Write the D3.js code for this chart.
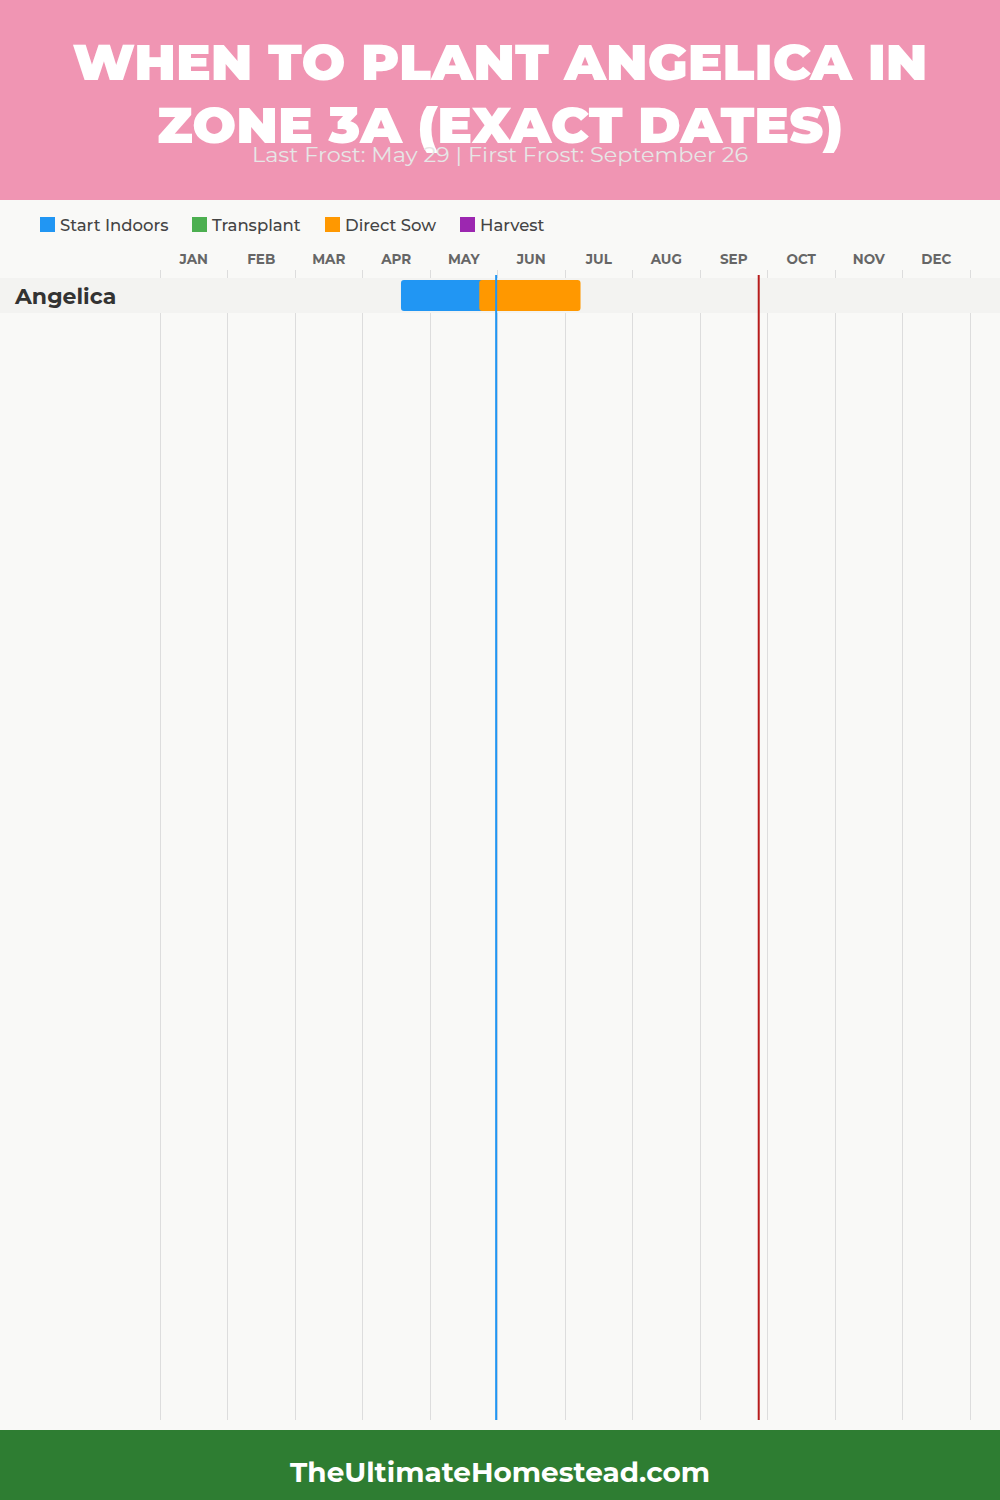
<!DOCTYPE html>
<html>
<head>
<meta charset="utf-8">
<script src="https://cdn.jsdelivr.net/npm/d3@7"></script>
<style>
  html, body { margin: 0; padding: 0; background: #f9f9f7; }
  svg { display: block; }
</style>
</head>
<body>
<div id="chart"></div>
<script>
// ---- data ----
const titleLines = ["WHEN TO PLANT ANGELICA IN", "ZONE 3A (EXACT DATES)"];
const subtitle = "Last Frost: May 29 | First Frost: September 26";
const months = ["JAN","FEB","MAR","APR","MAY","JUN","JUL","AUG","SEP","OCT","NOV","DEC"];
const legendLabels = ["Start Indoors", "Transplant", "Direct Sow", "Harvest"];
const legendColors = ["#2196f3", "#4caf50", "#ff9800", "#9c27b0"];
const plants = ["Angelica"];
// positions in months (0 = Jan 1, 12 = Dec 31)
const startIndoors = [[3.57, 4.80]];
const directSow = [[4.73, 6.23]];
const frostLines = [
  { name: "Last Frost", pos: 4.98, color: "#2196f3" },
  { name: "First Frost", pos: 8.87, color: "#b71c1c" }
];
const footer = "TheUltimateHomestead.com";

// ---- layout ----
const W = 1000, H = 1500;
const svg = d3.select("#chart").append("svg").attr("width", W).attr("height", H);

svg.append("rect").attr("width", W).attr("height", H).attr("fill", "#f9f9f7");

// header
svg.append("rect").attr("x", 0).attr("y", 0).attr("width", W).attr("height", 200).attr("fill", "#f095b3");
const titleFont = "Montserrat, Inter, 'Open Sans', 'DejaVu Sans', sans-serif";
const titleWidths = [855, 686];
svg.selectAll("text.title").data(titleLines).join("text")
  .attr("class", "title")
  .attr("x", W / 2).attr("y", (d, i) => 80 + i * 63)
  .attr("text-anchor", "middle")
  .attr("font-family", titleFont).attr("font-weight", 900).attr("font-size", 50)
  .attr("fill", "#ffffff")
  .attr("textLength", (d, i) => titleWidths[i]).attr("lengthAdjust", "spacingAndGlyphs")
  .text(d => d);
svg.append("text")
  .attr("x", W / 2).attr("y", 162)
  .attr("text-anchor", "middle")
  .attr("font-family", "Montserrat, 'Open Sans', sans-serif").attr("font-size", 20)
  .attr("fill", "#e6e6e6")
  .attr("textLength", 496).attr("lengthAdjust", "spacingAndGlyphs")
  .text(subtitle);

// legend
const legendX = [40, 192, 325, 460];
const lg = svg.selectAll("g.legend").data(legendLabels).join("g")
  .attr("class", "legend")
  .attr("transform", (d, i) => `translate(${legendX[i]},217)`);
lg.append("rect").attr("width", 15).attr("height", 15).attr("fill", (d, i) => legendColors[i]);
lg.append("text").attr("x", 20).attr("y", 14)
  .attr("font-family", "Montserrat, 'Open Sans', sans-serif").attr("font-size", 16.5)
  .attr("font-weight", 500)
  .attr("fill", "#444").text(d => d);

// scales
const x = d3.scaleLinear().domain([0, 12]).range([160, 970]);
const y = d3.scaleBand().domain(plants).range([278, 313]);

// month labels
svg.selectAll("text.month").data(months).join("text")
  .attr("class", "month")
  .attr("x", (d, i) => x(i + 0.5)).attr("y", 264)
  .attr("text-anchor", "middle")
  .attr("font-family", "Montserrat, Inter, 'Open Sans', sans-serif").attr("font-weight", 700)
  .attr("font-size", 13.5).attr("fill", "#666").text(d => d);

// gridlines
svg.selectAll("line.grid").data(d3.range(13)).join("line")
  .attr("class", "grid")
  .attr("x1", d => x(d)).attr("x2", d => x(d))
  .attr("y1", 270).attr("y2", 1420)
  .attr("stroke", "#dddddd").attr("stroke-width", 1)
  .attr("shape-rendering", "crispEdges");

// row band
svg.selectAll("rect.band").data(plants).join("rect")
  .attr("class", "band")
  .attr("x", 0).attr("width", W)
  .attr("y", d => y(d)).attr("height", y.bandwidth())
  .attr("fill", "#f3f3f1");

svg.selectAll("text.plant").data(plants).join("text")
  .attr("class", "plant")
  .attr("x", 15).attr("y", d => y(d) + y.bandwidth() / 2 + 8)
  .attr("font-family", "Montserrat, 'Open Sans', sans-serif").attr("font-weight", 700)
  .attr("font-size", 22).attr("fill", "#333").text(d => d);

// bars
function drawBars(data, color) {
  svg.append("g").selectAll("rect").data(data).join("rect")
    .attr("x", d => x(d[0])).attr("width", d => x(d[1]) - x(d[0]))
    .attr("y", (d, i) => y(plants[i]) + 2).attr("height", y.bandwidth() - 4)
    .attr("rx", 3).attr("fill", color);
}
drawBars(startIndoors, legendColors[0]);
drawBars(directSow, legendColors[2]);

// frost lines
svg.selectAll("line.frost").data(frostLines).join("line")
  .attr("class", "frost")
  .attr("x1", d => x(d.pos)).attr("x2", d => x(d.pos))
  .attr("y1", 275).attr("y2", 1420)
  .attr("stroke", d => d.color).attr("stroke-width", 2);

// footer
svg.append("rect").attr("x", 0).attr("y", 1430).attr("width", W).attr("height", 70).attr("fill", "#2e7d32");
svg.append("text")
  .attr("x", W / 2).attr("y", 1482)
  .attr("text-anchor", "middle")
  .attr("font-family", "Montserrat, 'Open Sans', sans-serif").attr("font-weight", 700)
  .attr("font-size", 28).attr("fill", "#ffffff")
  .attr("textLength", 420).attr("lengthAdjust", "spacingAndGlyphs")
  .text(footer);
</script>
</body>
</html>
